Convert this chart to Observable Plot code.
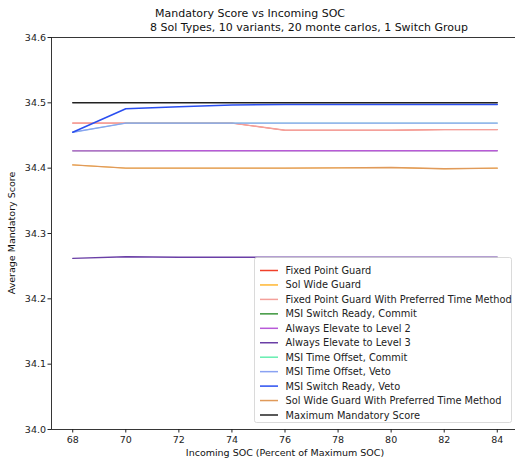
<!DOCTYPE html>
<html>
<head>
<meta charset="utf-8">
<script src="https://cdn.jsdelivr.net/npm/d3@7"></script>
<script src="https://cdn.jsdelivr.net/npm/@observablehq/plot@0.6"></script>
<style>
html, body { margin: 0; padding: 0; overflow: hidden; background: #fff; }
#chart { width: 515px; height: 460px; overflow: hidden; }
#chart svg { max-width: none !important; }
</style>
</head>
<body>
<div id="chart"></div>
<script>
const soc = [68, 70, 72, 74, 76, 78, 80, 82, 84];

const seriesNames = [
  "Fixed Point Guard",
  "Sol Wide Guard",
  "Fixed Point Guard With Preferred Time Method",
  "MSI Switch Ready, Commit",
  "Always Elevate to Level 2",
  "Always Elevate to Level 3",
  "MSI Time Offset, Commit",
  "MSI Time Offset, Veto",
  "MSI Switch Ready, Veto",
  "Sol Wide Guard With Preferred Time Method",
  "Maximum Mandatory Score"
];

const seriesColors = [
  "#f0402a", "#ffb732", "#f4a09a", "#3c963c", "#b85ad8", "#6a3fa6",
  "#66eeb0", "#8aa2f2", "#2a4ef0", "#e09a5a", "#222222"
];

const fixedPointGuard      = [34.469, 34.469, 34.469, 34.469, 34.458, 34.458, 34.458, 34.459, 34.459];
const solWideGuard         = [34.405, 34.400, 34.400, 34.400, 34.400, 34.4005, 34.401, 34.399, 34.400];
const fixedPointPreferred  = [34.469, 34.469, 34.469, 34.469, 34.458, 34.458, 34.458, 34.459, 34.459];
const msiSwitchCommit      = [34.4265, 34.4265, 34.4267, 34.4267, 34.4267, 34.4267, 34.4267, 34.4267, 34.4267];
const elevateLevel2        = [34.4265, 34.4265, 34.4267, 34.4267, 34.4267, 34.4267, 34.4267, 34.4267, 34.4267];
const elevateLevel3        = [34.262, 34.2645, 34.2637, 34.2637, 34.2637, 34.2637, 34.2637, 34.2637, 34.2637];
const msiTimeCommit        = [34.455, 34.469, 34.469, 34.469, 34.469, 34.469, 34.469, 34.469, 34.469];
const msiTimeVeto          = [34.455, 34.469, 34.469, 34.469, 34.469, 34.469, 34.469, 34.469, 34.469];
const msiSwitchVeto        = [34.455, 34.491, 34.494, 34.4965, 34.4975, 34.4975, 34.4975, 34.4975, 34.4975];
const solWidePreferred     = [34.405, 34.400, 34.400, 34.400, 34.400, 34.4005, 34.401, 34.399, 34.400];
const maxScore             = [34.5, 34.5, 34.5, 34.5, 34.5, 34.5, 34.5, 34.5, 34.5];

const seriesValues = [
  fixedPointGuard, solWideGuard, fixedPointPreferred, msiSwitchCommit,
  elevateLevel2, elevateLevel3, msiTimeCommit, msiTimeVeto,
  msiSwitchVeto, solWidePreferred, maxScore
];

const hiddenSeries = ["Fixed Point Guard", "Sol Wide Guard", "MSI Switch Ready, Commit", "MSI Time Offset, Commit"];

const yTicks = [34.0, 34.1, 34.2, 34.3, 34.4, 34.5, 34.6];
const xTicks = [68, 70, 72, 74, 76, 78, 80, 82, 84];

const font = "DejaVu Sans, sans-serif";
const W = 520, H = 460;

const lineMarks = seriesNames.map((name, i) =>
  Plot.line(soc.map((s, j) => ({soc: s, score: seriesValues[i][j]})), {
    x: "soc", y: "score", stroke: seriesColors[i],
    strokeWidth: (name === "MSI Switch Ready, Veto" || name === "Maximum Mandatory Score") ? 1.5
      : hiddenSeries.includes(name) ? 0.8 : 1.4
  })
);

const plot = Plot.plot({
  width: W,
  height: H,
  marginLeft: 51,
  marginRight: 2,
  marginTop: 37,
  marginBottom: 31,
  style: {fontFamily: font, fontSize: "9.5px", background: "#fff", color: "#222", maxWidth: "none"},
  x: {domain: [67.2, 84.8], label: null},
  y: {domain: [34.0, 34.6], label: null},
  marks: [
    Plot.frame({stroke: "#222", strokeWidth: 0.9}),
    Plot.axisX({ticks: xTicks, tickSize: 3.5, tickPadding: 3, tickFormat: d => String(d), label: null, fontSize: 9.5}),
    Plot.axisY({ticks: yTicks, tickSize: 3.5, tickPadding: 2, tickFormat: d => d.toFixed(1), label: null, fontSize: 9.5}),
    ...lineMarks
  ]
});

const svg = d3.select(plot);
svg.attr("font-family", font).style("max-width", "none");

// Titles
svg.append("text").attr("x", 250).attr("y", 17).attr("text-anchor", "middle")
  .attr("font-size", "11px").attr("fill", "#111").text("Mandatory Score vs Incoming SOC");
svg.append("text").attr("x", 309).attr("y", 31).attr("text-anchor", "middle")
  .attr("font-size", "11px").attr("fill", "#111").text("8 Sol Types, 10 variants, 20 monte carlos, 1 Switch Group");

// Axis labels
svg.append("text").attr("x", 285).attr("y", 456).attr("text-anchor", "middle")
  .attr("font-size", "9.5px").attr("fill", "#111").text("Incoming SOC (Percent of Maximum SOC)");
svg.append("text").attr("transform", "translate(15,233) rotate(-90)").attr("text-anchor", "middle")
  .attr("font-size", "9.5px").attr("fill", "#111").text("Average Mandatory Score");

// Legend
const lg = svg.append("g").attr("text-anchor", "start");
lg.append("rect").attr("x", 254.5).attr("y", 257.5).attr("width", 257).attr("height", 165)
  .attr("rx", 2).attr("fill", "#fff").attr("fill-opacity", 0.85).attr("stroke", "#d0d0d0").attr("stroke-width", 0.8);
seriesNames.forEach((name, i) => {
  const y = 270.5 + i * 14.45;
  lg.append("line").attr("x1", 260).attr("x2", 278).attr("y1", y).attr("y2", y)
    .attr("stroke", seriesColors[i]).attr("stroke-width", 1.5);
  lg.append("text").attr("x", 285.5).attr("y", y + 3.5).attr("text-anchor", "start")
    .attr("font-size", "9.8px").attr("fill", "#222").text(name);
});

document.getElementById("chart").appendChild(plot);
</script>
</body>
</html>
